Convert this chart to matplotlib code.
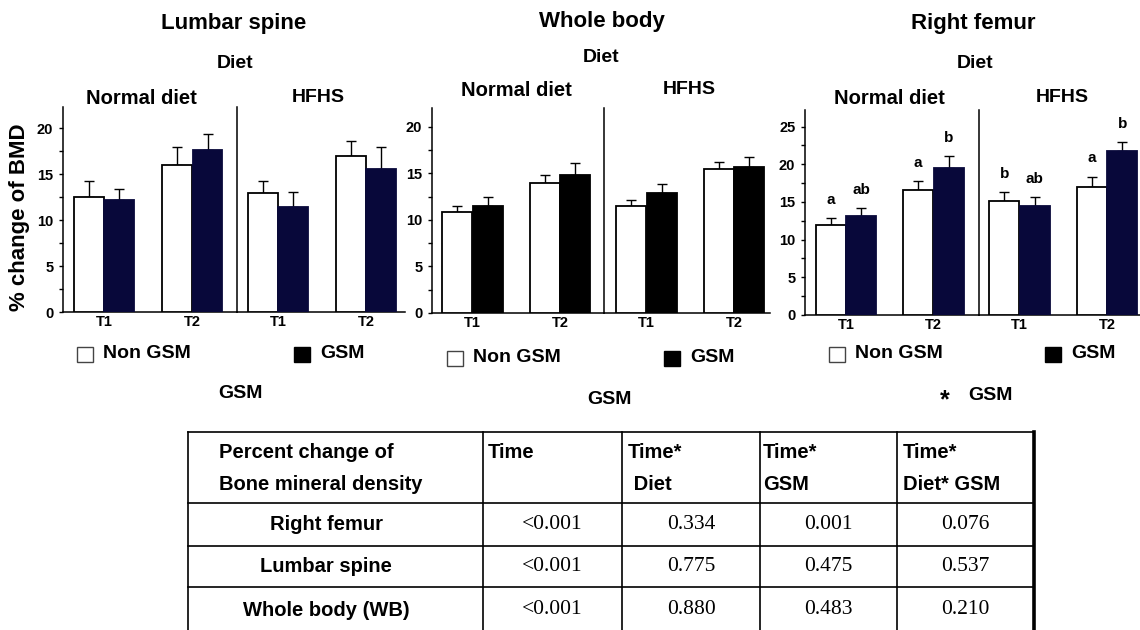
import matplotlib
matplotlib.use("Agg")
import matplotlib.pyplot as plt
from matplotlib.patches import Rectangle
from matplotlib.ticker import MultipleLocator
import numpy as np

plt.rcParams["font.family"] = ["Liberation Sans", "DejaVu Sans"]
plt.rcParams["font.weight"] = "bold"

W, H = 1140, 630

times = ["T1", "T2"]
diets = ["Normal diet", "HFHS"]

# % change of BMD, values per diet group for [T1, T2]; err = upper SE bar
lumbar_normal_non = [12.5, 16.0]
lumbar_normal_non_err = [1.7, 1.95]
lumbar_normal_gsm = [12.2, 17.6]
lumbar_normal_gsm_err = [1.2, 1.8]
lumbar_hfhs_non = [12.9, 16.95]
lumbar_hfhs_non_err = [1.35, 1.65]
lumbar_hfhs_gsm = [11.45, 15.55]
lumbar_hfhs_gsm_err = [1.65, 2.45]

wb_normal_non = [10.85, 13.93]
wb_normal_non_err = [0.58, 0.87]
wb_normal_gsm = [11.43, 14.86]
wb_normal_gsm_err = [0.97, 1.21]
wb_hfhs_non = [11.53, 15.5]
wb_hfhs_non_err = [0.61, 0.68]
wb_hfhs_gsm = [12.93, 15.64]
wb_hfhs_gsm_err = [0.93, 1.07]

femur_normal_non = [11.9, 16.6]
femur_normal_non_err = [1.0, 1.15]
femur_normal_gsm = [13.15, 19.48]
femur_normal_gsm_err = [1.05, 1.62]
femur_hfhs_non = [15.1, 17.0]
femur_hfhs_non_err = [1.2, 1.37]
femur_hfhs_gsm = [14.5, 21.7]
femur_hfhs_gsm_err = [1.1, 1.3]

femur_normal_non_letters = ["a", "a"]
femur_normal_gsm_letters = ["ab", "b"]
femur_hfhs_non_letters = ["b", "a"]
femur_hfhs_gsm_letters = ["ab", "b"]

# p-values table
table_header = [["Percent change of", "Bone mineral density"], ["Time", ""],
                ["Time*", " Diet"], ["Time*", "GSM"], ["Time*", "Diet* GSM"]]
table_sites = ["Right femur", "Lumbar spine", "Whole body (WB)"]
p_time = ["<0.001", "<0.001", "<0.001"]
p_time_diet = ["0.334", "0.775", "0.880"]
p_time_gsm = ["0.001", "0.475", "0.483"]
p_time_diet_gsm = ["0.076", "0.537", "0.210"]

NAVY = "#08083a"

fig = plt.figure(figsize=(W / 100, H / 100), dpi=100)
fig.patch.set_facecolor("white")

# overlay in pixel coordinates for titles, legends and the table
ov = fig.add_axes([0, 0, 1, 1])
ov.set_xlim(0, W)
ov.set_ylim(H, 0)
ov.axis("off")


def px_axes(left, top, right, bottom):
    return fig.add_axes([left / W, 1 - bottom / H, (right - left) / W, (bottom - top) / H])


def draw_group(ax, non, non_err, gsm, gsm_err, dark, xlim, ylim, first,
               letters_non=None, letters_gsm=None):
    x = np.arange(len(times))
    w = 0.34
    for xs, vals, err, fc, ec in [(x - 0.175, non, non_err, "white", "black"),
                                  (x + 0.175, gsm, gsm_err, dark, dark)]:
        ax.bar(xs, vals, w, color=fc, edgecolor=ec, linewidth=1.3, zorder=3)
        ax.errorbar(xs, vals, yerr=[np.zeros(len(vals)), err], fmt="none",
                    ecolor="black", elinewidth=1, capsize=3.5, capthick=1, zorder=2)
    if letters_non:
        for xs, vals, err, labs in [(x - 0.175, non, non_err, letters_non),
                                    (x + 0.175, gsm, gsm_err, letters_gsm)]:
            for xi, v, e, s in zip(xs, vals, err, labs):
                ax.text(xi, v + e + 2.4, s, ha="center", va="center", fontsize=11)
    ax.set_xlim(*xlim)
    ax.set_ylim(*ylim)
    ax.set_xticks(x)
    ax.set_xticklabels(times, fontsize=10.5)
    ax.tick_params(axis="x", length=0, pad=2)
    for side in ["top", "right"]:
        ax.spines[side].set_visible(False)
    for side in ["left", "bottom"]:
        ax.spines[side].set_linewidth(1.1)
    if first:
        ax.yaxis.set_major_locator(MultipleLocator(5))
        ax.yaxis.set_minor_locator(MultipleLocator(2.5))
        ax.tick_params(axis="y", which="both", direction="out", length=3, width=1,
                       labelsize=10.5, pad=4)
    else:
        ax.set_yticks([])
    ax.patch.set_alpha(0)


# Lumbar spine
a = px_axes(63, 107, 237, 312)
draw_group(a, lumbar_normal_non, lumbar_normal_non_err, lumbar_normal_gsm,
           lumbar_normal_gsm_err, NAVY, (-0.466, 1.51), (0, 22.3), True)
a = px_axes(237, 107, 405, 312)
draw_group(a, lumbar_hfhs_non, lumbar_hfhs_non_err, lumbar_hfhs_gsm,
           lumbar_hfhs_gsm_err, NAVY, (-0.466, 1.443), (0, 22.3), False)

# Whole body
a = px_axes(432, 108, 604, 313)
draw_group(a, wb_normal_non, wb_normal_non_err, wb_normal_gsm,
           wb_normal_gsm_err, "black", (-0.463, 1.503), (0, 22.0), True)
a = px_axes(604, 108, 770, 313)
draw_group(a, wb_hfhs_non, wb_hfhs_non_err, wb_hfhs_gsm,
           wb_hfhs_gsm_err, "black", (-0.486, 1.411), (0, 22.0), False)

# Right femur
a = px_axes(805, 110, 979, 315)
draw_group(a, femur_normal_non, femur_normal_non_err, femur_normal_gsm,
           femur_normal_gsm_err, NAVY, (-0.469, 1.52), (0, 27.2), True,
           femur_normal_non_letters, femur_normal_gsm_letters)
a = px_axes(979, 110, 1140, 315)
draw_group(a, femur_hfhs_non, femur_hfhs_non_err, femur_hfhs_gsm,
           femur_hfhs_gsm_err, NAVY, (-0.463, 1.377), (0, 27.2), False,
           femur_hfhs_non_letters, femur_hfhs_gsm_letters)

# titles
for cx, ty, dx, dy, n_x, h_x, sub_y, name in [
        (234, 23, 235, 63, 141, 318, 98, "Lumbar spine"),
        (602, 22, 601, 57, 516, 689, 90, "Whole body"),
        (973, 23, 975, 63, 889, 1062, 98, "Right femur")]:
    ov.text(cx, ty, name, ha="center", va="center", fontsize=16)
    ov.text(dx, dy, "Diet", ha="center", va="center", fontsize=14)
    ov.text(n_x, sub_y, diets[0], ha="center", va="center", fontsize=14.5)
    ov.text(h_x, sub_y, diets[1], ha="center", va="center", fontsize=14)

ov.text(20, 217, "% change of BMD", rotation=90, ha="center", va="center", fontsize=16)

# legends
for bx, gx, ly in [(77, 294, 354), (447, 664, 358), (829, 1045, 354)]:
    ov.add_patch(Rectangle((bx, ly - 7.5), 16, 15, facecolor="white",
                           edgecolor="#444444", linewidth=1))
    ov.text(bx + 26, ly, "Non GSM", ha="left", va="center", fontsize=14)
    ov.add_patch(Rectangle((gx, ly - 7.5), 16, 15, facecolor="black",
                           edgecolor="black", linewidth=1))
    ov.text(gx + 26, ly, "GSM", ha="left", va="center", fontsize=14)

ov.text(240, 394, "GSM", ha="center", va="center", fontsize=14)
ov.text(609, 400, "GSM", ha="center", va="center", fontsize=14)
ov.text(945, 400, "*", ha="center", va="center", fontsize=18)
ov.text(990, 396, "GSM", ha="center", va="center", fontsize=14)

# table
col_edges = [188, 483, 622, 760, 897, 1034]
row_edges = [432, 503, 546, 587, 633]
for yy in row_edges:
    ov.plot([col_edges[0], col_edges[-1]], [yy, yy], color="black", lw=1.2)
for i, xx in enumerate(col_edges):
    ov.plot([xx, xx], [row_edges[0], row_edges[-1]], color="black",
            lw=2.6 if i == len(col_edges) - 1 else 1.2)

header_x = [219, 488, 628, 763, 903]
for hx, (l1, l2) in zip(header_x, table_header):
    ov.text(hx, 452, l1, ha="left", va="center", fontsize=14.5)
    ov.text(hx, 484, l2, ha="left", va="center", fontsize=14.5)

columns = [p_time, p_time_diet, p_time_gsm, p_time_diet_gsm]
for r, site in enumerate(table_sites):
    cy = (row_edges[r + 1] + row_edges[r + 2]) / 2
    ov.text(326, cy, site, ha="center", va="center", fontsize=14.5)
    for c, col in enumerate(columns):
        cx = (col_edges[c + 1] + col_edges[c + 2]) / 2
        ov.text(cx, cy, col[r], ha="center", va="center", fontsize=15.5,
                family="Liberation Serif", fontweight="normal")

fig.savefig("out.png", dpi=100, facecolor="white")
